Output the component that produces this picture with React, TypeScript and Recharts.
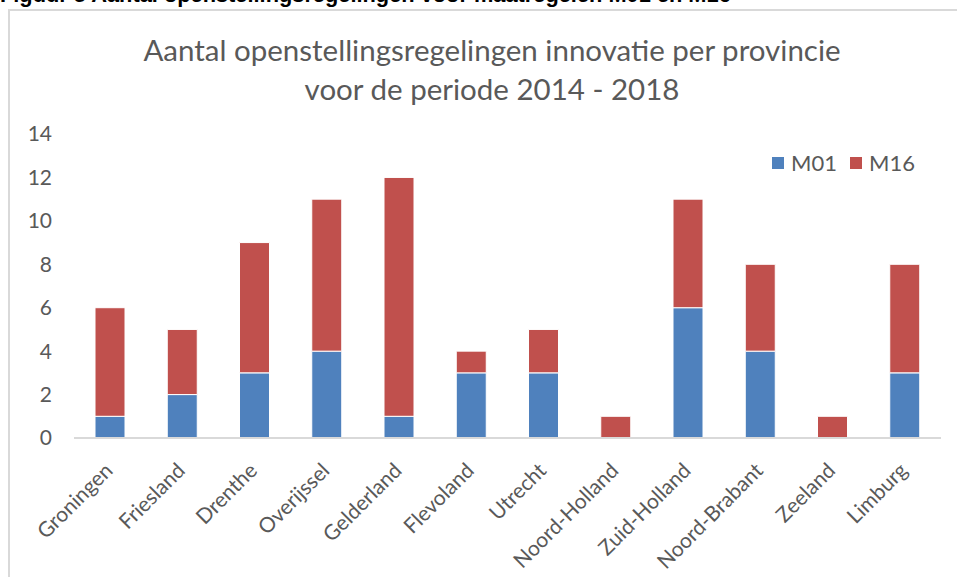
import { BarChart, Bar, XAxis, YAxis } from "recharts"

const provinces = [
  "Groningen",
  "Friesland",
  "Drenthe",
  "Overijssel",
  "Gelderland",
  "Flevoland",
  "Utrecht",
  "Noord-Holland",
  "Zuid-Holland",
  "Noord-Brabant",
  "Zeeland",
  "Limburg",
]
const m01 = [1, 2, 3, 4, 1, 3, 3, 0, 6, 4, 0, 3]
const m16 = [5, 3, 6, 7, 11, 1, 2, 1, 5, 4, 1, 5]
const yTicks = [0, 2, 4, 6, 8, 10, 12, 14]

const BLUE = "#4F81BD"
const RED = "#C0504D"
const TEXT = "#595959"
const FONT = "Lato, 'Open Sans', sans-serif"

const data = provinces.map((name, i) => ({ name, M01: m01[i], M16: m16[i] }))

// schuine labels onder de as
const RotatedTick = ({ x, y, payload }: any) => (
  <text
    x={x - 8}
    y={y + 14}
    transform={`rotate(-45, ${x - 8}, ${y + 14})`}
    textAnchor="end"
    dominantBaseline="hanging"
    fill={TEXT}
    fontSize={21}
    fontFamily={FONT}
  >
    {payload.value}
  </text>
)

export default function App() {
  return (
    <div
      style={{
        position: "absolute",
        left: 0,
        top: 0,
        width: 957,
        height: 577,
        overflow: "hidden",
        background: "#fff",
      }}
    >
      <div
        style={{
          position: "absolute",
          left: 0,
          top: -16,
          fontFamily: "'Liberation Sans', Arial, sans-serif",
          fontWeight: "bold",
          fontSize: 21.8,
          lineHeight: "22px",
          whiteSpace: "nowrap",
          color: "#000",
        }}
      >
        Figuur 5 Aantal openstellingsregelingen voor maatregelen M01 en M16
      </div>
      <div
        style={{
          position: "absolute",
          left: 8,
          top: 9,
          width: 960,
          height: 580,
          border: "2px solid #d9d9d9",
          boxSizing: "border-box",
        }}
      />
      <div
        style={{
          position: "absolute",
          left: 0,
          top: 30,
          width: 984,
          textAlign: "center",
          fontFamily: FONT,
          fontSize: 29.5,
          lineHeight: "39px",
          color: TEXT,
        }}
      >
        Aantal openstellingsregelingen innovatie per provincie
        <br />
        voor de periode 2014 - 2018
      </div>
      <div
        style={{
          position: "absolute",
          left: 772,
          top: 149,
          display: "flex",
          alignItems: "center",
          fontFamily: FONT,
          fontSize: 22,
          color: TEXT,
        }}
      >
        <span style={{ width: 12, height: 12, background: BLUE, marginRight: 7 }} />
        <span style={{ marginRight: 13 }}>M01</span>
        <span style={{ width: 12, height: 12, background: RED, marginRight: 7 }} />
        <span>M16</span>
      </div>
      <div style={{ position: "absolute", left: 0, top: 0 }}>
        <BarChart
          width={957}
          height={577}
          data={data}
          margin={{ top: 134, right: 16, left: 14, bottom: 19 }}
        >
          <XAxis
            dataKey="name"
            interval={0}
            height={120}
            tickLine={false}
            axisLine={{ stroke: "#d9d9d9", strokeWidth: 2 }}
            tick={<RotatedTick />}
          />
          <YAxis
            width={60}
            domain={[0, 14]}
            ticks={yTicks}
            interval={0}
            axisLine={false}
            tickLine={false}
            tickSize={0}
            tickMargin={22}
            tick={{ fill: TEXT, fontSize: 21, fontFamily: FONT }}
          />
          <Bar dataKey="M01" stackId="a" fill={BLUE} stroke="#fff" strokeWidth={1} barSize={30} isAnimationActive={false} />
          <Bar dataKey="M16" stackId="a" fill={RED} stroke="#fff" strokeWidth={1} barSize={30} isAnimationActive={false} />
        </BarChart>
      </div>
    </div>
  )
}
